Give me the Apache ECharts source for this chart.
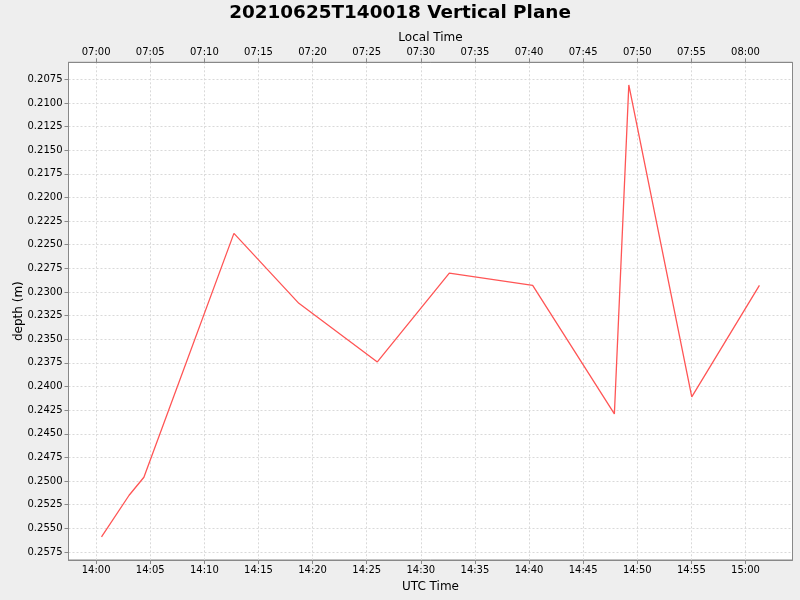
<!DOCTYPE html>
<html>
<head>
<meta charset="utf-8">
<script src="https://cdn.jsdelivr.net/npm/echarts@6/dist/echarts.min.js"></script>
<style>
html,body{margin:0;padding:0;background:#eeeeee;}
#c{width:800px;height:600px;}
</style>
</head>
<body>
<div id="c"></div>
<script>
// UTC sample times and depths (m)
var utcTimes = ['14:00:30','14:03:03','14:04:25','14:12:44','14:18:44','14:25:59','14:32:38','14:40:20','14:47:53','14:49:13','14:55:02','15:01:17'];
var depths   = [0.2559, 0.2515, 0.2496, 0.2238, 0.2312, 0.2374, 0.2280, 0.2293, 0.2429, 0.2081, 0.2411, 0.2293];

// Axis ticks
var utcTickLabels   = ['14:00','14:05','14:10','14:15','14:20','14:25','14:30','14:35','14:40','14:45','14:50','14:55','15:00'];
var localTickLabels = ['07:00','07:05','07:10','07:15','07:20','07:25','07:30','07:35','07:40','07:45','07:50','07:55','08:00'];
var depthTicks = [0.2075,0.2100,0.2125,0.2150,0.2175,0.2200,0.2225,0.2250,0.2275,0.2300,0.2325,0.2350,0.2375,0.2400,0.2425,0.2450,0.2475,0.2500,0.2525,0.2550,0.2575];

// axis ranges: minutes relative to 14:00 UTC
var xMin = -2.55, xMax = 64.34;
var yMin = 0.2057, yMax = 0.25835;

function toMin(s){
  var p = s.split(':').map(Number);
  return (p[0]-14)*60 + p[1] + (p[2]||0)/60;
}
var tickMinutes = utcTickLabels.map(toMin);

var font = 'DejaVu Sans';
var gridLine = {show:true, lineStyle:{color:'#d9d9d9', type:[2,2], width:1}};
var axisLineStyle = {show:true, onZero:false, lineStyle:{color:'#888888', width:1}};
var tickStyle = {show:true, length:4, inside:false, lineStyle:{color:'#888888'}};

var chart = echarts.init(document.getElementById('c'), null, {renderer:'canvas'});
chart.setOption({
  animation:false,
  backgroundColor:'#eeeeee',
  title:{
    text:'20210625T140018 Vertical Plane',
    left:'center', top:-1,
    textStyle:{fontFamily:font, fontSize:18.4, fontWeight:'bold', color:'#000'}
  },
  grid:{left:68.5, right:7.5, top:62.3, bottom:40, show:true, backgroundColor:'#ffffff', borderColor:'#888888', borderWidth:1, containLabel:false, outerBoundsMode:'none'},
  xAxis:[{
    type:'value', position:'bottom', min:xMin, max:xMax,
    name:'UTC Time', nameLocation:'middle', nameGap:20.5, nameMoveOverlap:false,
    nameTextStyle:{fontFamily:font, fontSize:12, color:'#000'},
    axisLine:axisLineStyle,
    axisTick:Object.assign({customValues:tickMinutes}, tickStyle),
    axisLabel:{customValues:tickMinutes, fontFamily:font, fontSize:10, color:'#000', margin:5,
      formatter:function(v){ var i = tickMinutes.indexOf(v); return i>=0 ? utcTickLabels[i] : ''; }},
    splitLine:gridLine
  },{
    type:'value', position:'top', min:xMin, max:xMax,
    name:'Local Time', nameLocation:'middle', nameGap:18.5, nameMoveOverlap:false,
    nameTextStyle:{fontFamily:font, fontSize:12, color:'#000'},
    axisLine:axisLineStyle,
    axisTick:Object.assign({customValues:tickMinutes}, tickStyle),
    axisLabel:{customValues:tickMinutes, fontFamily:font, fontSize:10, color:'#000', margin:5,
      formatter:function(v){ var i = tickMinutes.indexOf(v); return i>=0 ? localTickLabels[i] : ''; }},
    splitLine:{show:false}
  }],
  yAxis:{
    type:'value', inverse:true, min:yMin, max:yMax,
    name:'depth (m)', nameLocation:'middle', nameGap:44, nameMoveOverlap:false,
    nameTextStyle:{fontFamily:font, fontSize:12, color:'#000'},
    axisLine:axisLineStyle,
    axisTick:Object.assign({customValues:depthTicks}, tickStyle),
    axisLabel:{customValues:depthTicks, fontFamily:font, fontSize:10, color:'#000', margin:6,
      formatter:function(v){ return v.toFixed(4); }},
    splitLine:gridLine
  },
  series:[{
    type:'line', xAxisIndex:0,
    data: utcTimes.map(function(t,i){ return [toMin(t), depths[i]]; }),
    showSymbol:false, symbol:'none',
    lineStyle:{color:'#ff5555', width:1.3},
    itemStyle:{color:'#ff5555'}
  }]
});
</script>
</body>
</html>
